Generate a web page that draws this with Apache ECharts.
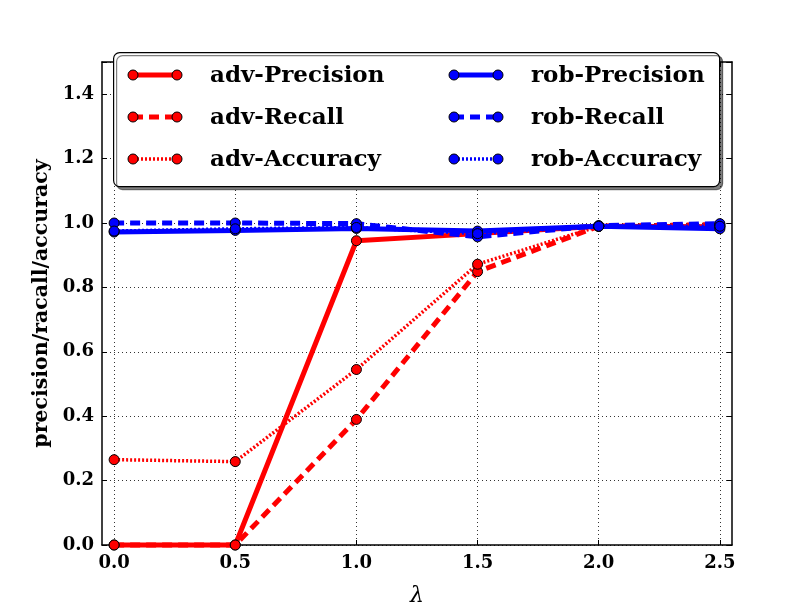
<!DOCTYPE html>
<html>
<head>
<meta charset="utf-8">
<script src="https://cdn.jsdelivr.net/npm/echarts@6/dist/echarts.min.js"></script>
<style>html,body{margin:0;padding:0;background:#fff;overflow:hidden}#c{width:812px;height:612px}</style>
</head>
<body>
<div id="c"></div>
<script>
const lambdas = [0, 0.5, 1.0, 1.5, 2.0, 2.5];
const advPrecision = [0, 0, 0.945, 0.967, 0.99, 0.988];
const advRecall = [0, 0, 0.39, 0.849, 0.99, 0.995];
const advAccuracy = [0.265, 0.259, 0.545, 0.872, 0.99, 0.99];
const robPrecision = [0.972, 0.977, 0.983, 0.975, 0.99, 0.982];
const robRecall = [1.0, 1.0, 0.998, 0.957, 0.992, 0.998];
const robAccuracy = [0.975, 0.982, 0.986, 0.967, 0.99, 0.99];
const seriesNames = ['adv-Precision', 'adv-Recall', 'adv-Accuracy', 'rob-Precision', 'rob-Recall', 'rob-Accuracy'];
const seriesColors = ['#ff0000', '#ff0000', '#ff0000', '#0000ff', '#0000ff', '#0000ff'];
const xTicks = [0, 0.5, 1.0, 1.5, 2.0, 2.5];

const styles = [
  {type: 'solid', width: 5},
  {type: [10, 6], width: 5},
  {type: [2, 2], width: 3.5}
];
const values = [advPrecision, advRecall, advAccuracy, robPrecision, robRecall, robAccuracy];
const FONT = '"DejaVu Serif", serif';

const series = values.map((vals, i) => ({
  name: seriesNames[i],
  type: 'line',
  data: lambdas.map((x, j) => [x, vals[j]]),
  symbol: 'circle',
  symbolSize: 10,
  lineStyle: {color: seriesColors[i], type: styles[i % 3].type, width: styles[i % 3].width, cap: 'butt'},
  itemStyle: {color: seriesColors[i], borderColor: '#000', borderWidth: 1},
  emphasis: {disabled: true},
  animation: false,
  clip: false
}));

// legend drawn with graphic elements
const legendEls = [];
legendEls.push({
  type: 'rect', left: 113, top: 52, z: 100,
  shape: {width: 606, height: 134, r: 6},
  style: {fill: '#fff', stroke: '#000', lineWidth: 1.2, shadowColor: 'rgba(0,0,0,0.5)', shadowOffsetX: 3, shadowOffsetY: 3, shadowBlur: 0}
});
const rowY = [75, 117, 159];
const colX = [133, 454];
const textX = [210, 531];
seriesNames.forEach((name, i) => {
  const col = Math.floor(i / 3), row = i % 3;
  const y = rowY[row], x0 = colX[col], x1 = x0 + 44;
  legendEls.push({
    type: 'line', z: 101,
    shape: {x1: x0, y1: y, x2: x1, y2: y},
    style: {stroke: seriesColors[i], lineWidth: styles[row].width, lineDash: styles[row].type === 'solid' ? null : styles[row].type}
  });
  [x0, x1].forEach(cx => legendEls.push({
    type: 'circle', z: 102,
    shape: {cx: cx, cy: y, r: 5},
    style: {fill: seriesColors[i], stroke: '#000', lineWidth: 1}
  }));
  legendEls.push({
    type: 'text', z: 102, x: textX[col], y: y + 1,
    style: {text: name, font: 'bold 23px ' + FONT, fill: '#000', textVerticalAlign: 'middle', verticalAlign: 'middle'}
  });
});

const chart = echarts.init(document.getElementById('c'), null, {renderer: 'canvas'});
const frameLine = {show: true, onZero: false, lineStyle: {color: '#000', width: 1.5}};
const xMain = {
  type: 'value', min: -0.05, max: 2.55,
  name: 'λ', nameLocation: 'middle', nameGap: 40,
  nameTextStyle: {fontFamily: FONT, fontStyle: 'italic', fontSize: 22, color: '#000'},
  axisLine: frameLine,
  axisTick: {show: true, inside: true, length: 5, customValues: xTicks, lineStyle: {color: '#000'}},
  axisLabel: {customValues: xTicks, formatter: v => v.toFixed(1), fontFamily: FONT, fontWeight: 'bold', fontSize: 18, color: '#000', margin: 9},
  splitLine: {show: true, lineStyle: {color: '#000', type: [1, 3], width: 0.8}}
};
const yMain = {
  type: 'value', min: 0, max: 1.5, interval: 0.2,
  name: 'precision/racall/accuracy', nameLocation: 'middle', nameGap: 40,
  nameTextStyle: {fontFamily: FONT, fontWeight: 'bold', fontSize: 20.5, color: '#000'},
  axisLine: frameLine,
  axisTick: {show: true, inside: true, length: 5, lineStyle: {color: '#000'}},
  axisLabel: {formatter: v => (Math.abs(v / 0.2 - Math.round(v / 0.2)) < 1e-6 ? v.toFixed(1) : ''), fontFamily: FONT, fontWeight: 'bold', fontSize: 18, color: '#000', margin: 8},
  splitLine: {show: true, lineStyle: {color: '#000', type: [1, 3], width: 0.8}}
};
const xTop = {
  type: 'value', min: -0.05, max: 2.55, position: 'top',
  axisLine: frameLine,
  axisTick: {show: true, inside: true, length: 5, customValues: xTicks, lineStyle: {color: '#000'}},
  axisLabel: {show: false}, splitLine: {show: false}
};
const yRight = {
  type: 'value', min: 0, max: 1.5, interval: 0.2, position: 'right',
  axisLine: frameLine,
  axisTick: {show: true, inside: true, length: 5, lineStyle: {color: '#000'}},
  axisLabel: {show: false}, splitLine: {show: false}
};
chart.setOption({
  animation: false,
  backgroundColor: '#fff',
  grid: {left: 102, right: 80, top: 62, bottom: 62, containLabel: false},
  xAxis: [xMain, xTop],
  yAxis: [yMain, yRight],
  series: series,
  graphic: legendEls
});
</script>
</body>
</html>
